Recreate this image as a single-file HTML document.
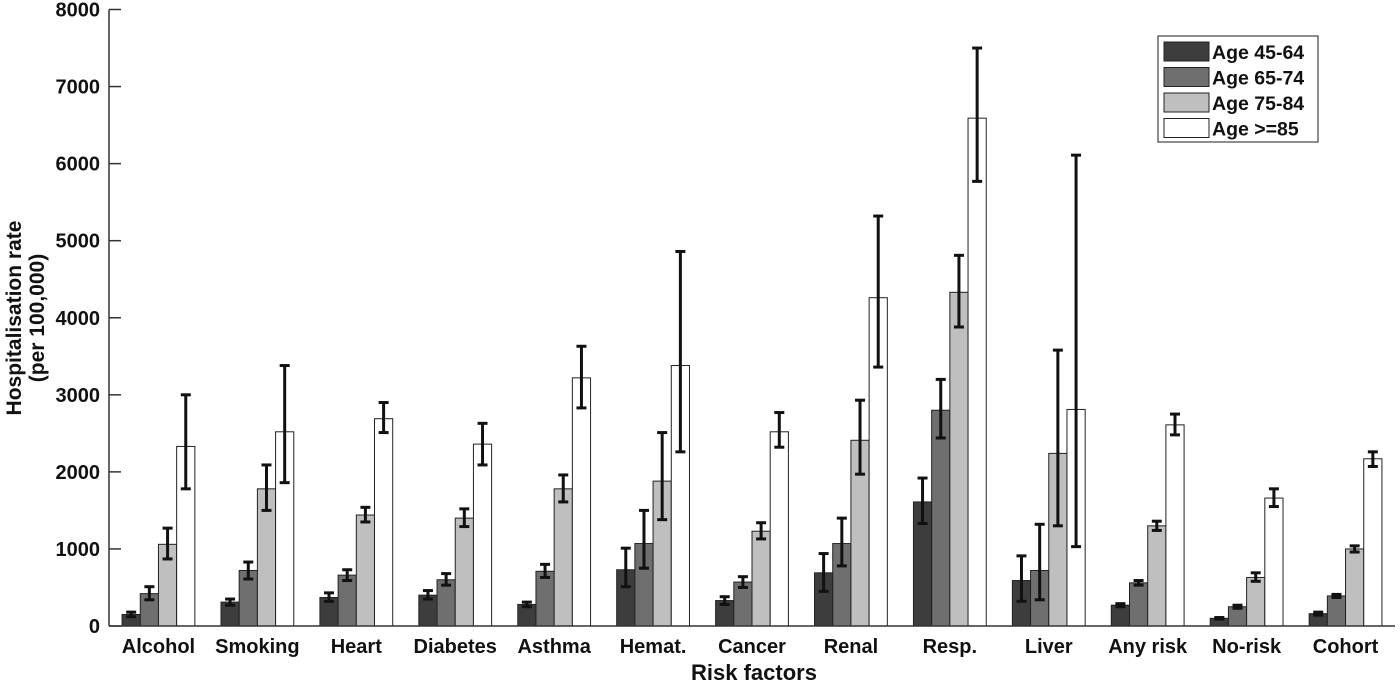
<!DOCTYPE html>
<html><head><meta charset="utf-8"><style>
body{margin:0;background:#fff;}
svg text{font-family:"Liberation Sans",Arial,sans-serif;font-weight:bold;fill:#111;}
</style></head><body>
<svg id="chart" width="1400" height="683" viewBox="0 0 1400 683" xmlns="http://www.w3.org/2000/svg"></svg>
<script>
const categories=["Alcohol","Smoking","Heart","Diabetes","Asthma","Hemat.","Cancer","Renal","Resp.","Liver","Any risk","No-risk","Cohort"];
const seriesNames=["Age 45-64","Age 65-74","Age 75-84","Age >=85"];
const age4564=[150,310,370,400,280,730,330,690,1610,590,270,100,160];
const age4564Lo=[120,270,320,350,250,510,280,450,1330,320,250,90,140];
const age4564Hi=[180,350,430,460,310,1010,380,940,1920,910,290,110,180];
const age6574=[420,720,660,600,710,1070,570,1070,2800,720,560,250,390];
const age6574Lo=[340,610,590,530,630,750,500,780,2440,340,530,230,370];
const age6574Hi=[510,830,730,680,800,1500,640,1400,3200,1320,590,270,410];
const age7584=[1060,1780,1440,1400,1780,1880,1230,2410,4330,2240,1300,630,1000];
const age7584Lo=[870,1500,1350,1290,1610,1380,1130,1970,3880,1300,1240,580,960];
const age7584Hi=[1270,2090,1540,1520,1960,2510,1340,2930,4810,3580,1360,690,1040];
const age85=[2330,2520,2690,2360,3220,3380,2520,4260,6590,2810,2610,1660,2170];
const age85Lo=[1780,1860,2510,2090,2830,2260,2320,3360,5770,1030,2480,1550,2070];
const age85Hi=[3000,3380,2900,2630,3630,4860,2770,5320,7500,6110,2750,1780,2260];
const yTicks=[0,1000,2000,3000,4000,5000,6000,7000,8000];

const vals=[age4564,age6574,age7584,age85],los=[age4564Lo,age6574Lo,age7584Lo,age85Lo],his=[age4564Hi,age6574Hi,age7584Hi,age85Hi];
const colors=["#3d3d3d","#6f6f6f","#bfbfbf","#ffffff"];
const svg=document.getElementById('chart');const NS="http://www.w3.org/2000/svg";
function el(t,a,p){const e=document.createElementNS(NS,t);for(const k in a)e.setAttribute(k,a[k]);(p||svg).appendChild(e);return e;}
const x0=109,x1=1395,y0=626,y1=9.5,yMax=8000;
const y=v=>y0-(v/yMax)*(y0-y1);
const band=(x1-x0)/categories.length;
const cx=i=>x0+band*(i+0.5);
const bw=18.2;
const bars=el('g',{});

categories.forEach((c,i)=>{
  for(let s=0;s<4;s++){
    const bx=cx(i)-2*bw+s*bw;
    const r=el('rect',{x:bx,y:y(vals[s][i]),width:bw,height:y0-y(vals[s][i]),fill:colors[s],stroke:"#222","stroke-width":1},bars);
    
    
  }
});
const errs=el('g',{stroke:"#111","stroke-width":3});

categories.forEach((c,i)=>{
  for(let s=0;s<4;s++){
    const mx=cx(i)-2*bw+s*bw+bw/2;
    el('line',{x1:mx,x2:mx,y1:y(los[s][i]),y2:y(his[s][i])},errs);
    el('line',{x1:mx-5,x2:mx+5,y1:y(los[s][i]),y2:y(los[s][i])},errs);
    el('line',{x1:mx-5,x2:mx+5,y1:y(his[s][i]),y2:y(his[s][i])},errs);
  }
});
const ax=el('g',{stroke:"#333","stroke-width":1.5});

el('line',{x1:x0,x2:x0,y1:y1,y2:y0},ax);
el('line',{x1:x0,x2:x1,y1:y0,y2:y0},ax);
yTicks.forEach(t=>{
  el('line',{x1:x0,x2:x0+12,y1:y(t),y2:y(t)},ax);
  const tx=el('text',{x:100,y:y(t)+7,'text-anchor':'end','font-size':20});
  tx.textContent=t;
  
});
categories.forEach((c,i)=>{
  const tx=el('text',{x:cx(i),y:653,'text-anchor':'middle','font-size':20});
  tx.textContent=c;
  
});
const xt=el('text',{x:754,y:680,'text-anchor':'middle','font-size':22});xt.textContent="Risk factors";

const yt=el('text',{transform:'translate(21,318) rotate(-90)','text-anchor':'middle','font-size':21});

const t1=el('tspan',{x:0,y:0},yt);t1.textContent="Hospitalisation rate";
const t2=el('tspan',{x:0,y:23},yt);t2.textContent="(per 100,000)";
const lg=el('g',{});

el('rect',{x:1158,y:36,width:160,height:106,fill:"#fff",stroke:"#444","stroke-width":1.2},lg);
seriesNames.forEach((n,s)=>{
  const ry=42+s*25.5;
  const sw=el('rect',{x:1164,y:ry,width:45,height:19,fill:colors[s],stroke:"#222","stroke-width":1},lg);
  
  const tx=el('text',{x:1212,y:ry+17,'font-size':19.5},lg);tx.textContent=n;
  
});
</script>
</body></html>
